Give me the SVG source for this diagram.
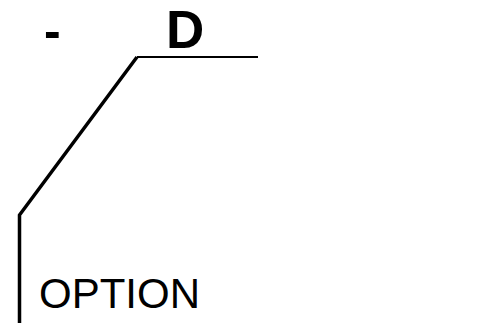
<svg xmlns="http://www.w3.org/2000/svg" width="487" height="323" viewBox="0 0 487 323">
<style>
.t{font-family:"Liberation Sans",Arial,sans-serif;fill:#000}
.b{font-weight:bold}
.ln{fill:none;stroke:#000;stroke-linecap:butt;stroke-linejoin:miter}
</style>
<rect width="487" height="323" fill="#fff"/>
<g id="connectors">
<polyline class="ln" stroke-width="3.5" points="19.5,323 19.5,215 137,57"/>
<line class="ln" stroke-width="2" x1="137" y1="57" x2="258" y2="57"/>
</g>
<g id="label-dash"><text class="t b" x="44" y="48" font-size="50">-</text></g>
<g id="label-D"><text class="t b" x="166" y="48" font-size="53">D</text></g>
<g id="label-OPTION"><text class="t" x="39" y="308" font-size="42">OPTION</text></g>
</svg>
